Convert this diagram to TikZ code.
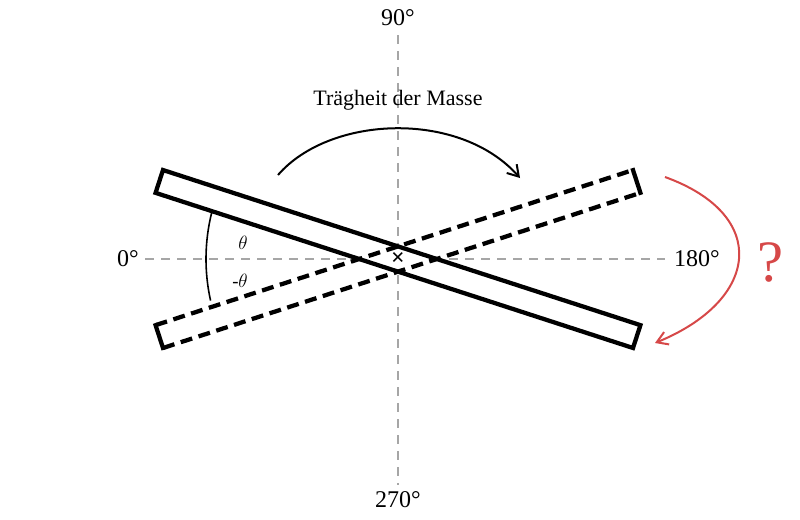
\documentclass[tikz,border=0pt]{standalone}
\usepackage{fontspec}
\setmainfont{Liberation Serif}
\usetikzlibrary{arrows.meta}
\definecolor{qred}{RGB}{214,72,72}
\begin{document}
\begin{tikzpicture}[x=0.75pt,y=-0.75pt,
  axis/.style={gray!70,line width=1.5pt,dash pattern=on 7pt off 5pt},
  bar/.style={line width=3.2pt},
  lbl/.style={font=\fontsize{18}{20}\selectfont}]
\useasboundingbox (0,0) rectangle (800,519);
\coordinate (c) at (398,259);
\draw[axis] (145,259) -- (665,259);
\draw[axis] (398,35) -- (398,485);
\node[lbl] (n90) at (398,18) {90°};
\node[lbl] (n270) at (398,500) {270°};
\node[lbl] (n0) at (128,259) {0°};
\node[lbl] (n180) at (697,259) {180°};
% solid bar
\begin{scope}[shift={(c)},rotate=-18]
\draw[bar,fill=white] (-251,-12) rectangle (251,12);
\end{scope}
% dashed bar
\begin{scope}[shift={(c)},rotate=18]
\draw[bar,dash pattern=on 9pt off 5pt] (-251,-12) -- (251,-12) (-251,12) -- (251,12);
\draw[bar] (-251,-14) -- (-251,14) (251,-14) -- (251,14);
\end{scope}
\node[font=\fontsize{18}{18}\selectfont\bfseries] (x) at (c) {×};
% theta arc
\draw[line width=1.2pt] (c) ++(167.5:192) arc (167.5:194:192);
\node[font=\fontsize{14}{14}\selectfont] (t1) at (243,243) {$\theta$};
\node[font=\fontsize{14}{14}\selectfont] (t2) at (240,281) {-$\theta$};
% inertia
\node[font=\fontsize{16.5}{18}\selectfont] (tm) at (398,100) {Trägheit der Masse};
\coordinate (a1) at (278,175);
\coordinate (a2) at (520,178);
\draw[line width=1.5pt,-{Straight Barb[length=8pt,width=10pt]}] (a1) .. controls (330,115) and (460,110) .. (a2);
% red arrow
\coordinate (r1) at (665,177);
\coordinate (r2) at (655,343);
\draw[qred,line width=1.5pt,-{Straight Barb[length=8pt,width=10pt]}] (r1) .. controls (770,215) and (760,300) .. (r2);
\node[qred,font=\fontsize{44}{44}\selectfont] (q) at (771,262) {?};
\end{tikzpicture}
\end{document}
